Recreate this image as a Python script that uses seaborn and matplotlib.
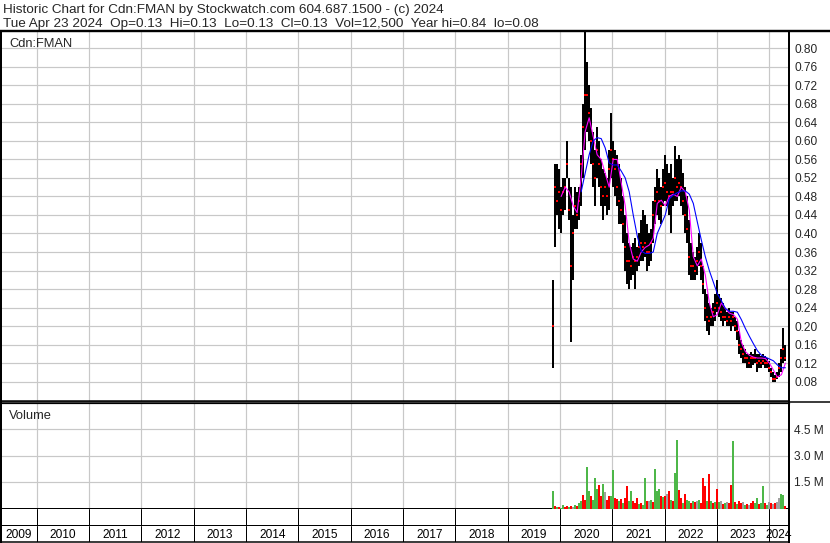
import numpy as np
import pandas as pd
import seaborn as sns
import matplotlib.pyplot as plt
from matplotlib.lines import Line2D

sns.set_style("white")
plt.rcParams['font.family'] = ['Liberation Sans', 'DejaVu Sans']

# ---- data (~biweekly) ----
price_dates = pd.date_range("2019-11-14", "2024-04-23", periods=117)

price_hi = [0.30, 0.55, 0.55, 0.54, 0.50, 0.52, 0.52, 0.60, 0.52, 0.50,
            0.44, 0.50, 0.49, 0.50, 0.57, 0.68, 0.835, 0.77, 0.72, 0.67,
            0.62, 0.58, 0.63, 0.60, 0.56, 0.54, 0.53, 0.52, 0.58, 0.66,
            0.60, 0.58, 0.57, 0.55, 0.52, 0.48, 0.44, 0.40, 0.38, 0.37,
            0.38, 0.39, 0.37, 0.40, 0.43, 0.45, 0.44, 0.42, 0.40, 0.41,
            0.47, 0.50, 0.54, 0.52, 0.50, 0.54, 0.57, 0.55, 0.53, 0.55,
            0.52, 0.59, 0.56, 0.57, 0.56, 0.53, 0.50, 0.48, 0.43, 0.38,
            0.36, 0.35, 0.37, 0.40, 0.38, 0.33, 0.28, 0.27, 0.25, 0.24,
            0.25, 0.27, 0.30, 0.27, 0.26, 0.25, 0.24, 0.23, 0.24, 0.23,
            0.23, 0.22, 0.21, 0.19, 0.17, 0.16, 0.15, 0.14, 0.14, 0.145,
            0.14, 0.15, 0.14, 0.14, 0.135, 0.14, 0.135, 0.13, 0.125, 0.11,
            0.10, 0.095, 0.10, 0.12, 0.15, 0.195, 0.16]
price_lo = [0.11, 0.37, 0.44, 0.41, 0.40, 0.44, 0.45, 0.52, 0.43, 0.165,
            0.30, 0.41, 0.41, 0.43, 0.46, 0.52, 0.58, 0.62, 0.60, 0.55,
            0.50, 0.46, 0.52, 0.50, 0.46, 0.43, 0.46, 0.44, 0.45, 0.52,
            0.50, 0.48, 0.46, 0.42, 0.42, 0.38, 0.32, 0.29, 0.28, 0.30,
            0.31, 0.28, 0.32, 0.33, 0.34, 0.34, 0.35, 0.32, 0.33, 0.34,
            0.38, 0.42, 0.44, 0.43, 0.42, 0.46, 0.47, 0.46, 0.44, 0.40,
            0.46, 0.47, 0.47, 0.48, 0.46, 0.44, 0.40, 0.38, 0.31, 0.30,
            0.30, 0.30, 0.31, 0.33, 0.30, 0.27, 0.21, 0.19, 0.18, 0.20,
            0.20, 0.21, 0.23, 0.22, 0.21, 0.20, 0.21, 0.20, 0.20, 0.19,
            0.20, 0.19, 0.17, 0.14, 0.13, 0.12, 0.12, 0.11, 0.11, 0.11,
            0.115, 0.12, 0.10, 0.11, 0.11, 0.115, 0.11, 0.11, 0.10, 0.09,
            0.08, 0.08, 0.085, 0.09, 0.10, 0.12, 0.125]
price_close = [0.20, 0.50, 0.47, 0.49, 0.45, 0.49, 0.50, 0.55, 0.45, 0.33,
               0.40, 0.46, 0.44, 0.47, 0.55, 0.63, 0.70, 0.70, 0.66, 0.60,
               0.55, 0.52, 0.58, 0.55, 0.50, 0.48, 0.50, 0.48, 0.54, 0.58,
               0.56, 0.54, 0.50, 0.47, 0.45, 0.42, 0.37, 0.34, 0.34, 0.33,
               0.35, 0.34, 0.35, 0.37, 0.38, 0.37, 0.38, 0.36, 0.36, 0.38,
               0.44, 0.47, 0.49, 0.47, 0.46, 0.50, 0.51, 0.49, 0.48, 0.49,
               0.49, 0.52, 0.50, 0.51, 0.50, 0.47, 0.44, 0.41, 0.35, 0.33,
               0.33, 0.32, 0.34, 0.36, 0.33, 0.29, 0.24, 0.22, 0.21, 0.22,
               0.23, 0.24, 0.25, 0.24, 0.23, 0.22, 0.22, 0.21, 0.22, 0.21,
               0.22, 0.20, 0.19, 0.16, 0.15, 0.14, 0.13, 0.13, 0.12, 0.13,
               0.13, 0.13, 0.12, 0.125, 0.12, 0.125, 0.12, 0.12, 0.11, 0.10,
               0.085, 0.085, 0.09, 0.11, 0.13, 0.15, 0.13]

ma_short = [0.48, 0.50, 0.49, 0.46, 0.445, 0.52, 0.62, 0.65, 0.61, 0.57,
            0.56, 0.53, 0.50, 0.56, 0.56, 0.51, 0.46, 0.38, 0.345, 0.34,
            0.36, 0.37, 0.375, 0.39, 0.465, 0.472, 0.46, 0.48, 0.485, 0.48,
            0.50, 0.49, 0.45, 0.35, 0.33, 0.345, 0.31, 0.25, 0.22, 0.225,
            0.25, 0.238, 0.228, 0.225, 0.215, 0.165, 0.145, 0.137, 0.133, 0.131,
            0.131, 0.13, 0.12, 0.105, 0.09, 0.095, 0.12]
ma_long = [0.49, 0.53, 0.57, 0.60, 0.607, 0.605, 0.585, 0.552, 0.548, 0.548,
           0.535, 0.52, 0.49, 0.44, 0.395, 0.362, 0.357, 0.357, 0.36, 0.40,
           0.42, 0.44, 0.475, 0.483, 0.488, 0.492, 0.492, 0.485, 0.465, 0.425,
           0.386, 0.35, 0.32, 0.295, 0.27, 0.255, 0.238, 0.232, 0.232, 0.23,
           0.214, 0.195, 0.178, 0.162, 0.147, 0.137, 0.133, 0.129, 0.125, 0.116,
           0.11, 0.11]

# volume in millions, direction: g=up, r=down, n=unchanged
volume_m = [1.0, 0.15, 0.1, 0.08, 0.05, 0.2, 0.1, 0.15, 0.1, 0.12,
            0.1, 0.2, 0.15, 0.3, 0.45, 0.78, 0.5, 2.35, 1.0, 0.7,
            0.5, 1.7, 1.1, 1.35, 0.7, 1.38, 0.95, 0.5, 0.7, 0.7,
            2.17, 0.6, 0.55, 0.45, 0.55, 0.3, 0.6, 1.27, 0.4, 1.0,
            0.4, 0.3, 0.6, 0.25, 0.3, 0.2, 1.72, 0.4, 0.45, 0.5,
            0.35, 2.22, 1.0, 1.1, 0.7, 0.65, 0.7, 0.8, 1.0, 0.5,
            0.4, 2.0, 3.9, 1.05, 0.6, 0.3, 0.8, 0.5, 0.4, 0.3,
            0.4, 0.35, 0.45, 0.5, 0.3, 1.7, 1.3, 0.4, 1.94, 0.4,
            0.3, 0.35, 1.1, 0.35, 0.4, 0.25, 0.3, 0.35, 0.3, 1.35,
            3.8, 0.35, 0.25, 0.4, 0.3, 0.35, 0.2, 0.25, 0.2, 0.3,
            0.45, 0.3, 0.6, 0.25, 0.3, 1.27, 0.3, 0.2, 0.35, 0.3,
            0.25, 0.3, 0.35, 0.6, 0.8, 0.75, 0.15]
volume_dir = list("grgrggrrgr"
                  "ngrggrrggr"
                  "gggrrgnrrg"
                  "grrgrgrrgg"
                  "rrrgrggrng"
                  "rgggrgrnrg"
                  "rggrrgrggr"
                  "grngrrrgrg"
                  "rgrgnrgnrr"
                  "grgrrngrnr"
                  "rggrgg" "rgnrn"
                  "rnnggr")

price_ticks = [0.08, 0.12, 0.16, 0.20, 0.24, 0.28, 0.32, 0.36, 0.40, 0.44,
               0.48, 0.52, 0.56, 0.60, 0.64, 0.68, 0.72, 0.76, 0.80]
vol_ticks = [1.5, 3.0, 4.5]
vol_labels = ["1.5 M", "3.0 M", "4.5 M"]
years = list(range(2009, 2025))

header1 = "Historic Chart for Cdn:FMAN by Stockwatch.com 604.687.1500 - (c) 2024"
header2 = ("Tue Apr 23 2024  Op=0.13  Hi=0.13  Lo=0.13  Cl=0.13  "
           "Vol=12,500  Year hi=0.84  lo=0.08")

# ---- layout ----
W, H = 830, 543
PX = 0.72  # one pixel in points at dpi 100
fig = plt.figure(figsize=(W / 100, H / 100), dpi=100)
fig.patch.set_facecolor("white")


def rect(x0, y0, x1, y1):
    return [x0 / W, 1 - y1 / H, (x1 - x0) / W, (y1 - y0) / H]


xlo = pd.Timestamp("2009-04-25")
xhi = pd.Timestamp("2024-05-18")
year_starts = [pd.Timestamp(f"{y}-01-01") for y in years[1:]]
grid_c = "#C8C8C8"
fs = 8.6
fs_head = 9.7
fs_lab = 9.3

ax = fig.add_axes(rect(1, 31.5, 789, 401))
axv = fig.add_axes(rect(1, 402.5, 789, 508.5))
axs = fig.add_axes(rect(1, 508.5, 789, 526))
axy = fig.add_axes(rect(1, 526, 789, 541.5))

for a in (ax, axv, axs, axy):
    a.set_facecolor("white")
    a.set_xlim(xlo, xhi)
    a.set_xticks(year_starts)
    a.tick_params(labelbottom=False, length=0)
    for side in a.spines:
        a.spines[side].set_color("black")
        a.spines[side].set_linewidth(2 * PX)
        a.spines[side].set_visible(True)

# price panel
ax.set_ylim(0.0382, 0.8363)
ax.set_yticks(price_ticks)
ax.set_yticklabels([f"{t:.2f}" for t in price_ticks])
ax.yaxis.tick_right()
ax.tick_params(axis="y", length=0, pad=5 * PX, labelsize=fs)
ax.grid(True, color=grid_c, linewidth=1.2 * PX)
ax.set_axisbelow(True)
ax.spines["top"].set_visible(False)
ax.spines["bottom"].set_linewidth(1.5 * PX)

ax.vlines(price_dates, price_lo, price_hi, color="black", linewidth=2 * PX,
          antialiased=False)
sns.scatterplot(x=price_dates, y=price_close, marker="s", s=3, color="#FF0000",
                linewidth=0, ax=ax, zorder=3)
sns.lineplot(x=price_dates[4::2], y=ma_short, color="#FF00FF",
             linewidth=1.1 * PX, ax=ax, zorder=4)
sns.lineplot(x=price_dates[14::2], y=ma_long, color="#0000FF",
             linewidth=1.1 * PX, ax=ax, zorder=5)
ax.set_xlabel("")
ax.set_ylabel("")

# volume panel
vol_colors = {"g": "#4DB748", "r": "#FF0000", "n": "#A0A0A0"}
axv.set_ylim(0, 6.0)
axv.set_yticks(vol_ticks)
axv.set_yticklabels(vol_labels)
axv.yaxis.tick_right()
axv.tick_params(axis="y", length=0, pad=5 * PX, labelsize=fs)
axv.grid(True, color=grid_c, linewidth=1.2 * PX)
axv.set_axisbelow(True)
axv.spines["top"].set_linewidth(1.2 * PX)
axv.bar(price_dates, volume_m, width=14,
        color=[vol_colors[d] for d in volume_dir[:len(volume_m)]],
        linewidth=0, antialiased=False, zorder=3)

# blank strip and year row
for a in (axs, axy):
    a.set_yticks([])
    a.set_ylim(0, 1)
    a.grid(True, axis="x", color="black", linewidth=1.0 * PX)
axs.spines["top"].set_visible(False)
axy.spines["top"].set_visible(False)
axy.spines["bottom"].set_linewidth(1.5 * PX)

bounds = [xlo] + year_starts + [xhi]
for y, b0, b1 in zip(years, bounds[:-1], bounds[1:]):
    axy.text(b0 + (b1 - b0) / 2, 0.45, str(y), ha="center", va="center",
             fontsize=fs, color="black", clip_on=False)

# frame lines that run across the whole width
fig.add_artist(Line2D([0, 1], [1 - 30.5 / H] * 2, color="black",
                      linewidth=2.4 * PX))
fig.add_artist(Line2D([0, 1], [1 - 401.5 / H] * 2, color="black",
                      linewidth=1.5 * PX))

# texts
fig.text(3 / W, 1 - 13.5 / H, header1, fontsize=fs_head, va="baseline")
fig.text(3 / W, 1 - 27 / H, header2, fontsize=fs_head, va="baseline")
fig.text(9 / W, 1 - 46.7 / H, "Cdn:FMAN", fontsize=fs_lab, va="baseline")
fig.text(9 / W, 1 - 419 / H, "Volume", fontsize=fs_lab, va="baseline")

fig.savefig("out.png", dpi=100, facecolor="white")
